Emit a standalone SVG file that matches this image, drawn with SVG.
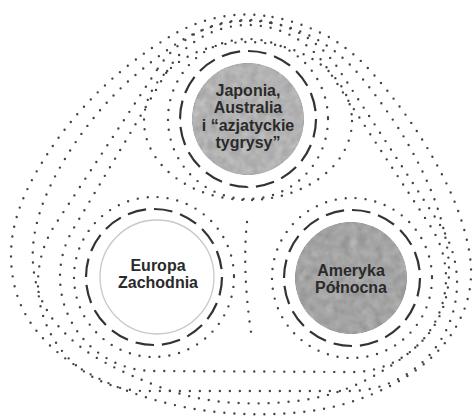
<svg xmlns="http://www.w3.org/2000/svg" width="475" height="416" viewBox="0 0 475 416">
<style>
.dot{fill:none;stroke:#444;stroke-width:2.4;stroke-linecap:round;stroke-dasharray:0 10}
.dash{fill:none;stroke:#333;stroke-width:2.2;stroke-dasharray:7 3}
.lbl{font-family:"Liberation Sans",Arial,sans-serif;font-weight:bold;font-size:16px;fill:#2a2a2a;text-anchor:middle}
</style>
<defs>
<filter id="mottle" x="0" y="0" width="100%" height="100%" color-interpolation-filters="sRGB">
<feTurbulence type="fractalNoise" baseFrequency="0.12" numOctaves="2" seed="5" result="n"/>
<feColorMatrix in="n" type="matrix" values="0.33 0.33 0.33 0 0  0.33 0.33 0.33 0 0  0.33 0.33 0.33 0 0  0 0 0 0 1" result="g"/>
<feComposite in="g" in2="SourceGraphic" operator="arithmetic" k1="0" k2="0.3" k3="1" k4="-0.15" result="m"/>
<feComposite in="m" in2="SourceGraphic" operator="in"/>
</filter>
</defs>
<rect width="475" height="416" fill="#ffffff"/>
<g id="contours">
<path class="dot" d="M272.5,17 Q300,22 325,35 Q350,48 371,71.5 Q392,95 411,122.5 Q430,150 446,182.5 Q462,215 468.5,247.5 Q475,280 465,307.5 Q455,335 432.5,356.5 Q410,378 375,393 Q340,408 302.5,412 Q265,416 227.5,413 Q190,410 155,400 Q120,390 90,374 Q60,358 40,335 Q20,312 14,283.5 Q8,255 14,227.5 Q20,200 37.5,170 Q55,140 77.5,114 Q100,88 125,68 Q150,48 172.5,35 Q195,22 220,17 Q245,12 272.5,17 Z"/>
<path class="dot" d="M271.5,23 Q298,28 320.5,41.5 Q343,55 361.5,77.5 Q380,100 397,126 Q414,152 428,183.5 Q442,215 447,246.5 Q452,278 444.5,303 Q437,328 417,346 Q397,364 366,380 Q335,396 300,400.5 Q265,405 230,402.5 Q195,400 162.5,388 Q130,376 104,362 Q78,348 60,328 Q42,308 36,283 Q30,258 35,231.5 Q40,205 55,176.5 Q70,148 90,122.5 Q110,97 132.5,77.5 Q155,58 176,44 Q197,30 221,24 Q245,18 271.5,23 Z"/>
<path class="dot" d="M157.8,68.6 A108,108 0 0 1 338.5,69 L439.5,224 A108,108 0 0 1 349,391 L146,391 A108,108 0 0 1 55.8,223.6 Z"/>
<path class="dot" d="M167.2,71 A94,94 0 0 1 326.7,67.6 L430.7,226.6 A94,94 0 0 1 351.5,372 L153.5,371 A94,94 0 0 1 73.2,229 Z"/>
<ellipse class="dot" cx="248" cy="121" rx="104" ry="79"/>
<circle class="dot" cx="248" cy="119" r="80"/>
<circle class="dot" cx="154" cy="277" r="80"/>
<circle class="dot" cx="352" cy="278" r="80"/>
<path class="dot" d="M247,222 Q242,270 251,332"/>
</g>
<g id="japonia">
<circle cx="248" cy="119" r="56" fill="#b2b2b2" filter="url(#mottle)"/>
<circle class="dash" cx="248" cy="119" r="68" pathLength="160"/>
<text class="lbl" x="248" y="95.5">Japonia,</text>
<text class="lbl" x="248" y="113">Australia</text>
<text class="lbl" x="248" y="130.5">i “azjatyckie</text>
<text class="lbl" x="248" y="148">tygrysy”</text>
</g>
<g id="europa">
<circle cx="157" cy="277" r="57" fill="#ffffff" stroke="#c8c8c8" stroke-width="1.3"/>
<circle class="dash" cx="154" cy="277" r="68" pathLength="160"/>
<text class="lbl" x="158" y="270.5">Europa</text>
<text class="lbl" x="158" y="287.5">Zachodnia</text>
</g>
<g id="ameryka">
<circle cx="351" cy="278" r="56" fill="#a4a4a4" filter="url(#mottle)"/>
<circle class="dash" cx="352" cy="278" r="68" pathLength="160"/>
<text class="lbl" x="351" y="275.5">Ameryka</text>
<text class="lbl" x="351" y="292.5">Północna</text>
</g>
</svg>
